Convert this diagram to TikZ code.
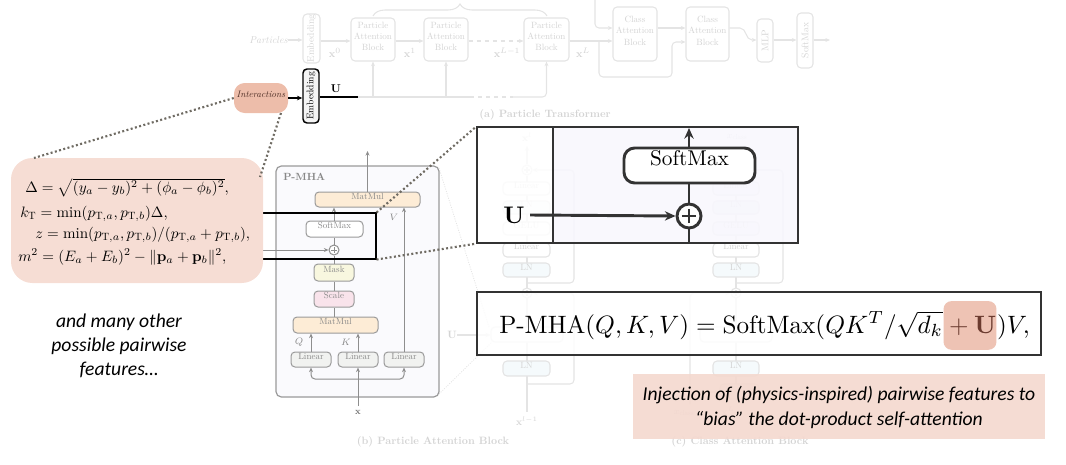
\documentclass[tikz,border=0pt]{standalone}
\usepackage{amsmath}
\usepackage{graphicx}
\usepackage{fontspec}
\setmainfont{lmroman10-regular}[Extension=.otf, BoldFont=lmroman10-bold, ItalicFont=lmroman10-italic, BoldItalicFont=lmroman10-bolditalic]
\newfontfamily\carlito{Carlito}
\usetikzlibrary{arrows.meta,fit,calc,decorations.pathreplacing}
\definecolor{fadeL}{HTML}{E4E4E4}
\definecolor{fadeT}{HTML}{D4D4D4}
\definecolor{fadeB}{HTML}{F5FAFC}
\definecolor{gbord}{HTML}{9A9A9A}
\definecolor{gtext}{HTML}{888888}
\definecolor{gline}{HTML}{8E8E8E}
\definecolor{pmhafill}{HTML}{FAFAFD}
\definecolor{mmfill}{HTML}{FDECD6}
\definecolor{maskfill}{HTML}{F8F7DF}
\definecolor{scalefill}{HTML}{F9E3EB}
\definecolor{linfill}{HTML}{F1F2F0}
\definecolor{interfill}{HTML}{EDBDAA}
\definecolor{intertext}{HTML}{4B2B22}
\definecolor{formfill}{HTML}{F6DDD4}
\definecolor{dotc}{HTML}{6F6B63}
\definecolor{inlav}{HTML}{F8F7FD}
\definecolor{darkc}{HTML}{333333}
\definecolor{hlc}{HTML}{EEC3B4}
\definecolor{brownc}{HTML}{6B3B2F}
\definecolor{injfill}{HTML}{F4D9CF}
\newcommand\fsz[2]{\fontsize{#1}{#2}\selectfont}
\newcommand\eqs[1]{\scalebox{1.884}{#1}}
\newcommand\fms[1]{\scalebox{1.13}{#1}}
\tikzset{
  fl/.style={draw=fadeL, line width=0.8pt},
  fla/.style={fl, -{Stealth[length=3.5pt,width=3pt]}},
  fbox/.style={draw=fadeL, line width=0.8pt, rounded corners=3pt, fill=white, inner sep=0pt, text=fadeT, font=\fsz{6.8}{8.5}, align=center},
  ft/.style={text=fadeT, inner sep=0pt, font=\fsz{7.5}{9}},
  gbox/.style={draw=gbord, line width=0.75pt, rounded corners=3pt, inner sep=0pt, text=gtext, font=\fsz{6.8}{8}},
  ga/.style={draw=gline, line width=0.75pt, -{Stealth[length=3.5pt,width=3pt]}},
  gl/.style={draw=gline, line width=0.75pt},
  dotl/.style={draw=dotc, line width=1.6pt, dash pattern=on 1.5pt off 1.8pt},
  faintdot/.style={draw=fadeL, line width=0.6pt, dash pattern=on 0.8pt off 1pt},
  oplus/.style n args={3}{circle, draw=#2, line width=#3, fill=white, inner sep=0pt, minimum size=#1,
    path picture={\draw[draw=#2, line width=#3]
      ($(path picture bounding box.west)!0.2!(path picture bounding box.east)$) -- ($(path picture bounding box.west)!0.8!(path picture bounding box.east)$)
      ($(path picture bounding box.north)!0.2!(path picture bounding box.south)$) -- ($(path picture bounding box.north)!0.8!(path picture bounding box.south)$);}},
  darka/.style={draw=darkc, line width=2.2pt, -{Stealth[length=8pt,width=7pt]}},
  fline/.style={anchor=base west, inner sep=0pt, font=\fsz{10}{12}},
}
\begin{document}
\begin{tikzpicture}[x=0.75pt,y=-0.75pt]
\useasboundingbox (0,0) rectangle (1066,464);
\coordinate (y28) at (0,28);
\coordinate (y40) at (0,40);
\coordinate (y41) at (0,41);
\coordinate (y42) at (0,42);
\coordinate (y392) at (0,392);

% ================= faded (a) Particle Transformer =================
\node[ft, font=\itshape\fsz{7.5}{8}, anchor=east] (parts) at (288,40) {Particles};
\node[fbox, rotate=90, minimum width=36.75pt, minimum height=12.75pt, font=\fsz{7.2}{8}] (femb) at (311.5,38.5) {Embedding};
\draw[fla] (parts.east) -- (femb.north |- parts.east);
\node[fbox, fit={(351,18) (395,61)}] (pab1) {Particle\\Attention\\Block};
\node[fbox, fit={(424,18) (468,61)}] (pab2) {Particle\\Attention\\Block};
\node[fbox, fit={(524,18) (569,61)}] (pab3) {Particle\\Attention\\Block};
\node[fbox, fit={(613,7) (657,61)}] (cab1) {Class\\Attention\\Block};
\node[fbox, fit={(686,7) (729,61)}] (cab2) {Class\\Attention\\Block};
\node[fbox, rotate=90, minimum width=32.25pt, minimum height=12pt, font=\fsz{7.2}{8}] (fmlp) at (765,40.5) {MLP};
\node[fbox, rotate=90, minimum width=41.25pt, minimum height=12pt, font=\fsz{7.2}{8}] (fsoft) at (805,40.5) {SoftMax};
\draw[fla] (femb.south |- y41) -- (pab1.west |- y41);
\draw[fla] (pab1.east |- y41) -- (pab2.west |- y41);
\draw[fla, dashed] (pab2.east |- y41) -- (pab3.west |- y41);
\draw[fla] (pab3.east |- y41) -- (cab1.west |- y41);
\coordinate (xcin) at (595,0);
\draw[fla, rounded corners=3pt] (xcin) |- (cab1.west |- y28);
\draw[fla] (cab1.east |- y28) -- (cab2.west |- y28);
\coordinate (brk) at (599,41);
\draw[fla, rounded corners=3pt] (brk) -- (599,77) -- (672,77) -- (672,42) -- (cab2.west |- y42);
\draw[fla] (cab2.east |- y28) -- (740,28) to[out=0,in=180] (752,40) -- (fmlp.north |- y40);
\draw[fla] (fmlp.south |- y40) -- (fsoft.north |- y40);
\coordinate (fout) at (830,40);
\draw[fla] (fsoft.south |- y40) -- (fout);
\node[ft, font=\fsz{8}{9}] (lx0) at (335,53) {$\mathbf{x}^0$};
\node[ft, font=\fsz{8}{9}] (lx1) at (410,53) {$\mathbf{x}^1$};
\node[ft, font=\fsz{8}{9}] (lxl1) at (507,53) {$\mathbf{x}^{L-1}$};
\node[ft, font=\fsz{8}{9}] (lxl) at (583,53) {$\mathbf{x}^L$};
\draw[fl, decorate, decoration={brace, amplitude=9pt}] (373,16) -- (547,16);
\coordinate (ub) at (358,97);
\coordinate (ud1) at (470,97);
\coordinate (ud2) at (513,97);
\draw[fl] (ub) -- (ud1);
\draw[fl, dashed] (ud1) -- (ud2);
\draw[fla, rounded corners=3pt] (ud2) -| (pab3.south);
\draw[fla] (pab1.south |- ub) -- (pab1.south);
\draw[fla] (pab2.south |- ub) -- (pab2.south);
\node[ft, font=\bfseries\fsz{8}{9}] (capa) at (545,115) {(a) Particle Transformer};

% ================= faded (b) block column =================
\coordinate (bbot) at (527,412);
\coordinate (btop) at (527,146);
\draw[fl] (bbot) -- (527,176);
\node[fbox, fit={(503,182) (550,195)}] (bl1) {Linear};
\node[fbox, fill=fadeB, fit={(503,201) (550,214)}] (bln1) {LN};
\node[fbox, fit={(503,222) (550,235)}] (bgl) {GELU};
\node[fbox, fit={(503,243) (550,257)}] (bl2) {Linear};
\node[fbox, fill=fadeB, fit={(503,263) (550,277)}] (bln2) {LN};
\node[oplus={7.5pt}{fadeL}{0.8pt}] (bo2) at (527,293) {};
\node[fbox, fit={(491,327) (563,342)}] (bpm) {};
\node[fbox, fill=fadeB, fit={(503,361) (550,376)}] (bln3) {LN};
\node[oplus={7.5pt}{fadeL}{0.8pt}] (bo1) at (527,170) {};
\draw[fla] (bo1) -- (btop);
\node[ft] (bxl) at (527,137) {$\mathbf{x}^l$};
\node[ft] (bxl1) at (527,421) {$\mathbf{x}^{l-1}$};
\draw[fla, rounded corners=3pt] (527,283) -- (574,283) -- (574,170) -- (bo1.east);
\draw[fla, rounded corners=3pt] (527,384) -- (574,384) -- (574,293) -- (bo2.east);
\node[ft, font=\fsz{8}{9}] (bU) at (452,335) {$\mathbf{U}$};
\draw[fla] (bU.east) -- (bpm.west |- bU.east);
\node[ft, font=\bfseries\fsz{8}{9}] (capb) at (433,442) {(b) Particle Attention Block};

% ================= faded (c) block column =================
\coordinate (cbot) at (736,400);
\coordinate (ctop) at (736,146);
\draw[fl] (cbot) -- (736,176);
\node[fbox, fit={(713,182) (759,195)}] (cl1) {Linear};
\node[fbox, fill=fadeB, fit={(713,201) (759,214)}] (cln1) {LN};
\node[fbox, fit={(713,222) (759,235)}] (cgl) {GELU};
\node[fbox, fit={(713,243) (759,257)}] (cl2) {Linear};
\node[fbox, fill=fadeB, fit={(713,263) (759,277)}] (cln2) {LN};
\node[oplus={7.5pt}{fadeL}{0.8pt}] (co2) at (736,293) {};
\node[fbox, fit={(700,327) (772,342)}] (cmha) {};
\node[fbox, fill=fadeB, fit={(713,361) (759,376)}] (cln3) {LN};
\node[fbox, fit={(720,384) (759,399)}] (ccat) {};
\node[oplus={7.5pt}{fadeL}{0.8pt}] (co1) at (736,170) {};
\draw[fla] (co1) -- (ctop);
\node[ft] (cxc) at (737,137) {$x_{\mathrm{class}}$};
\draw[fla, rounded corners=3pt] (736,283) -- (783,283) -- (783,170) -- (co1.east);
\coordinate (cres) at (690,404);
\draw[fla, rounded corners=3pt] (cres) |- (co2.west);
\coordinate (cin) at (690,392);
\draw[fla] (cin) -- (ccat.west |- y392);
\node[ft] (cxc2) at (684,413) {$x_{\mathrm{class}}$};
\node[ft] (cxl) at (728,411) {$\mathbf{x}^L$};
\node[ft, font=\bfseries\fsz{8}{9}] (capc) at (740,442) {(c) Class Attention Block};

% faint zoom lines from P-MHA box
\coordinate (zl1) at (489,327);
\coordinate (zl2) at (491,343);
\draw[faintdot] (439,168) -- (zl1);
\draw[faintdot] (439,394) -- (zl2);

% ================= P-MHA block =================
\node[draw=gbord, line width=0.9pt, rounded corners=4pt, fill=pmhafill, inner sep=0pt, fit={(276,166) (439,397)}] (pmha) {};
\node[anchor=west, inner sep=0pt, text=gtext, font=\bfseries\fsz{7.8}{9}] (pmlab) at (283,177) {P-MHA};
\node[gbox, fill=mmfill, fit={(315,192) (420,207)}] (mm1) {MatMul};
\node[gbox, fill=white, fit={(306,221) (363,237)}] (sm) {SoftMax};
\node[oplus={7.5pt}{gline}{0.75pt}] (op) at (334,250) {};
\node[gbox, fill=maskfill, fit={(314,264) (354,281)}] (mask) {Mask};
\node[gbox, fill=scalefill, fit={(314,291) (354,307)}] (scale) {Scale};
\node[gbox, fill=mmfill, fit={(293,317) (378,333)}] (mm2) {MatMul};
\node[gbox, fill=linfill, fit={(291,352) (331,367)}] (lin1) {Linear};
\node[gbox, fill=linfill, fit={(338,352) (378,367)}] (lin2) {Linear};
\node[gbox, fill=linfill, fit={(384,352) (424,367)}] (lin3) {Linear};
\coordinate (pout) at (367.5,151);
\draw[ga] (mm1.north) -- (pout);
\draw[ga] (sm.north -| op) -- (mm1.south -| op);
\draw[gl] (op) -- (sm.south -| op);
\draw[gl] (mask.north -| op) -- (op.south);
\draw[gl] (scale.north -| op) -- (mask.south -| op);
\draw[gl] (mm2.north -| op) -- (scale.south -| op);
\draw[ga] (lin1.north) -- (lin1.north |- mm2.south);
\draw[ga] (lin2.north) -- (lin2.north |- mm2.south);
\draw[ga] (lin3.north) -- (lin3.north |- mm1.south);
\node[text=gtext, inner sep=0pt, font=\fsz{7}{8}] (lq) at (299,342) {$Q$};
\node[text=gtext, inner sep=0pt, font=\fsz{7}{8}] (lk) at (346,342) {$K$};
\node[text=gtext, inner sep=0pt, font=\fsz{7}{8}] (lv) at (394,217) {$V$};
\coordinate (xin) at (358,406);
\coordinate (xbr) at (358,379);
\draw[ga] (xin) -- (lin2.south);
\draw[ga, rounded corners=3pt] (xbr) -| (lin1.south);
\draw[ga, rounded corners=3pt] (xbr) -| (lin3.south);
\node[text=gtext!80!black, inner sep=0pt, font=\fsz{7}{8}] (lx) at (358,412) {$\mathbf{x}$};
\coordinate (ustart) at (250,250);
\draw[ga] (ustart) -- (op.west);

% highlight rectangle
\node[draw=black, line width=0.8pt, inner sep=0pt, fit={(240,213) (376,259)}] (hl) {};

% ================= dotted callouts =================
\coordinate (fc1) at (34,158);
\coordinate (fc2) at (260,177);
\coordinate (ic2) at (281,113);

% ================= formula box =================
\node[fill=formfill, rounded corners=16pt, inner sep=0pt, fit={(11,158) (263,283)}] (fbox) {};
\node[fline] (f1) at (25,192) {\fms{$\Delta=\sqrt{(y_a-y_b)^2+(\phi_a-\phi_b)^2},$}};
\node[fline] (f2) at (20,217) {\fms{$k_\mathrm{T}=\min(p_{\mathrm{T},a},p_{\mathrm{T},b})\Delta,$}};
\node[fline] (f3) at (35,238) {\fms{$z=\min(p_{\mathrm{T},a},p_{\mathrm{T},b})/(p_{\mathrm{T},a}+p_{\mathrm{T},b}),$}};
\node[fline] (f4) at (18,261) {\fms{$m^2=(E_a+E_b)^2-\lVert\mathbf{p}_a+\mathbf{p}_b\rVert^2,$}};

% ================= inset =================
\fill[white, fill opacity=0.85] (477,127) rectangle (553,243);
\fill[inlav, fill opacity=0.9] (553,127) rectangle (798,243);
\node[draw=darkc, line width=0.9pt, inner sep=0pt, fit={(477,127) (798,243)}] (inset) {};
\coordinate (vt) at (553,127);
\coordinate (vb) at (553,243);
\draw[draw=darkc, line width=2.2pt] (vt) -- (vb);
\node[draw=darkc, line width=2.2pt, rounded corners=8pt, fill=white, inner sep=0pt, font=\fsz{16}{18}, fit={(624,148) (755,183)}] (ism) {SoftMax};
\node[oplus={18pt}{darkc}{2.2pt}] (iop) at (689,216) {};
\coordinate (itop) at (689,128);
\coordinate (ibot) at (689,243);
\draw[darka] (ism.north -| iop) -- (itop);
\draw[draw=darkc, line width=2.2pt] (iop) -- (ism.south -| iop);
\draw[draw=darkc, line width=2.2pt] (iop.south) -- (ibot);
\node[inner sep=0pt, font=\bfseries\fsz{18}{20}] (iU) at (514,215) {U};
\draw[darka] ([xshift=4pt]iU.east) -- (iop.west);

\draw[dotl] (hl.north east) -- (inset.north west);
\draw[dotl] (hl.south east) -- (inset.south west);

% ================= equation box =================
\node[draw=darkc, line width=0.9pt, fill=white, fill opacity=0.85, inner sep=0pt, fit={(477,292) (1041,355)}] (eqbox) {};
\node[anchor=base west, inner sep=0pt, font=\fsz{10}{12}] (e1) at (499,333) {\eqs{$\mathrm{P\text{-}MHA}(Q,K,V)=\mathrm{SoftMax}(QK^T/\sqrt{d_k}$}};
\node[anchor=base west, inner xsep=0pt, inner ysep=11pt, fill=hlc, rounded corners=6pt, text=brownc, font=\fsz{10}{12}] (e2) at (e1.base east) {\eqs{${}+{}\mathbf{U}$}};
\node[anchor=base west, inner sep=0pt, font=\fsz{10}{12}] (e3) at (e2.base east) {\eqs{$)V,$}};

% ================= injection box =================
\node[fill=injfill, fill opacity=0.92, inner sep=0pt, fit={(633,374) (1045,439)}] (inj) {};
\node[font=\carlito\itshape\fsz{14.7}{18.8}, align=center, inner sep=0pt] (injt) at (839,407) {Injection of (physics-inspired) pairwise features to\\“bias” the dot-product self-attention};

% ================= interactions & embedding =================
\node[fill=interfill, rounded corners=8pt, inner sep=0pt, text=intertext, font=\itshape\fsz{7}{8}, fit={(234,83) (288,113)}] (inter) {Interactions};
\node[draw=black, line width=1.1pt, fill=white!92!gray, rounded corners=3pt, inner sep=0pt, rotate=90, minimum width=40.5pt, minimum height=12pt, font=\fsz{7.2}{8}] (emb) at (311,96) {Embedding};
\draw[black, line width=0.8pt, -{Stealth[length=4pt,width=3.5pt]}] (inter.east) -- (emb.north |- inter.east);
\node[inner sep=0pt, font=\bfseries\fsz{8.5}{9}] (uU) at (336,89) {U};
\draw[black, line width=1.2pt] (emb.south |- ub) -- (ub);
\draw[dotl] (inter.west) -- (fc1);
\draw[dotl] (ic2) -- (fc2);

% ================= left note =================
\node[font=\carlito\itshape\fsz{14.7}{18}, align=center, inner sep=0pt] (many) at (119,346) {and many other\\possible pairwise\\features…};
\end{tikzpicture}
\end{document}
